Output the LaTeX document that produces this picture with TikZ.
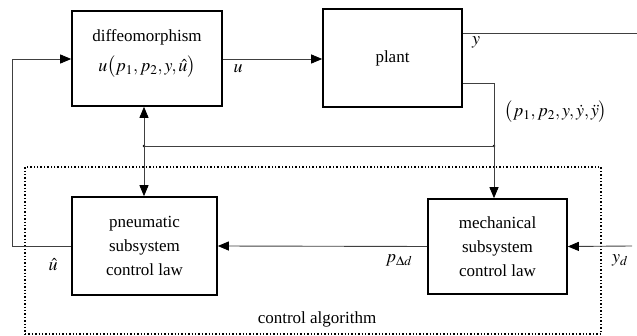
\documentclass[tikz,border=0pt]{standalone}
\usepackage{mathptmx}
\usepackage{fontspec}
\setmainfont{Liberation Serif}
\usetikzlibrary{arrows.meta}
\tikzset{
  block/.style={draw=black, line width=1.6pt, minimum width=#1, inner sep=0pt},
  sig/.style={draw=black!75, line width=0.9pt},
  arr/.style={sig, -{Triangle[length=11pt,width=9pt,fill=black,color=black]}},
  dot/.style={circle, fill=black, inner sep=0pt, minimum size=2.6pt},
  txt/.style={font=\fontsize{17}{20}\selectfont, inner sep=0pt},
  lab/.style={font=\fontsize{18}{21}\selectfont, inner sep=0pt}
}
\begin{document}
\begin{tikzpicture}[x=1pt,y=-1pt]
\useasboundingbox (0,0) rectangle (637,336);

% control algorithm frame
\node[draw=black, dotted, line width=1.4pt, minimum width=576pt, minimum height=167pt, inner sep=0pt] (ctrl) at (313,250.5) {};
\node[txt] (ctrllab) at (317,319) {control algorithm};

% blocks
\node[block=150pt, minimum height=95pt] (diffeo) at (147,58.5) {};
\node[txt] (diffeoA) at (147,37) {diffeomorphism};
\node[lab] (diffeoB) at (147,67) {$u\bigl(p_1,p_2,y,\hat u\bigr)$};

\node[block=139pt, minimum height=98pt, txt] (plant) at (392.5,58) {plant};

\node[block=145pt, minimum height=98pt, txt, align=center] (pneu) at (144.5,246)
  {pneumatic\\[4pt]subsystem\\[4pt]control law};
\node[block=139pt, minimum height=95pt, txt, align=center] (mech) at (497.5,246.5)
  {mechanical\\[4pt]subsystem\\[4pt]control law};

% junctions and free ends
\coordinate (jl) at (144,146);
\coordinate (jr) at (494,146);
\coordinate (tap) at (494,83);
\coordinate (yend) at (637,33);
\coordinate (ydin) at (632,246);
\coordinate (fbA) at (12,246);
\coordinate (fbB) at (12,59);
\node[dot] (jlDot) at (jl) {};
\node[dot] (jrDot) at (jr) {};

% signal lines
\draw[arr] (diffeo.east |- 0,59) -- (plant.west |- 0,59);
\draw[sig] (plant.east |- yend) -- (yend);
\draw[sig] (plant.east |- tap) -- (tap) -- (jr);
\draw[arr] (jr) -- (mech.north -| jr);
\draw[sig] (jl) -- (jr);
\draw[arr] (jl) -- (diffeo.south -| jl);
\draw[arr] (jl) -- (pneu.north -| jl);
\draw[arr] (mech.west) -- (pneu.east);
\draw[arr] (ydin) -- (mech.east);
\draw[arr] (pneu.west) -- (fbA) -- (fbB) -- (diffeo.west |- fbB);

% signal labels
\node[lab] (uLab) at (238,69) {$u$};
\node[lab] (yLab) at (476,42) {$y$};
\node[lab] (pLab) at (556,112) {$\bigl(p_1,p_2,y,\dot y,\ddot y\bigr)$};
\node[lab] (uhLab) at (53,265) {$\hat u$};
\node[lab] (pdLab) at (399,260) {$p_{\Delta d}$};
\node[lab] (ydLab) at (620,260) {$y_d$};
\end{tikzpicture}
\end{document}
